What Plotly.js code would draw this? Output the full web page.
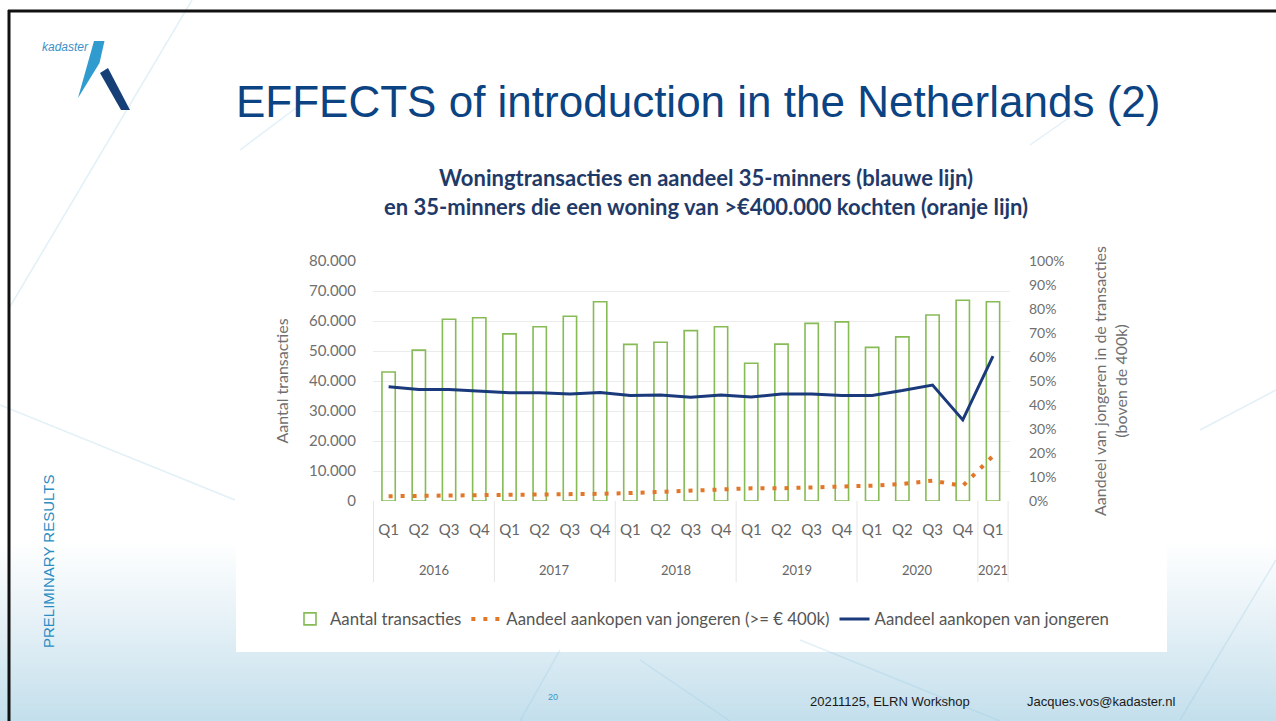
<!DOCTYPE html>
<html>
<head>
<meta charset="utf-8">
<script src="https://cdn.plot.ly/plotly-3.0.1.min.js"></script>
<style>
  html, body { margin: 0; padding: 0; }
  body {
    width: 1276px; height: 721px; overflow: hidden;
    background: linear-gradient(to bottom, #ffffff 0%, #ffffff 75%, #e4f0f6 87%, #c3dfec 100%);
  }
  #chart { width: 1276px; height: 721px; }
</style>
</head>
<body>
<div id="chart"></div>
<script>
// ---- data ----
const periodYear = ['2016','2016','2016','2016','2017','2017','2017','2017','2018','2018','2018','2018',
                    '2019','2019','2019','2019','2020','2020','2020','2020','2021'];
const periodQuarter = ['Q1','Q2','Q3','Q4','Q1','Q2','Q3','Q4','Q1','Q2','Q3','Q4',
                       'Q1','Q2','Q3','Q4','Q1','Q2','Q3','Q4','Q1'];
const aantalTransacties = [43000,50300,60600,61100,55700,58100,61600,66400,52200,52900,56800,58100,
                           45900,52300,59200,59700,51200,54700,62000,66900,66400];
const aandeelJongeren400k = [2.0,2.1,2.1,2.2,2.6,2.8,2.8,3.0,3.3,3.8,4.6,5.0,
                             5.3,5.3,5.7,5.7,6.4,7.1,8.5,6.3,18.8];
const aandeelJongeren = [47.6,46.5,46.5,45.8,45.1,45.1,44.6,45.2,44.0,44.2,43.2,44.2,
                         43.3,44.6,44.6,44.0,44.0,46.0,48.3,33.8,60.4];
const leftTicks = [0,10000,20000,30000,40000,50000,60000,70000,80000];

// ---- helpers ----
const W = 1276, H = 721;
const px = x => x / W;
const py = y => 1 - y / H;
const cats = periodYear.map((y, i) => y + ' ' + periodQuarter[i]);

const axisGrey = '#6f6f6f';
const chartFont = 'Lato, "Open Sans", sans-serif';

const traces = [
  {
    type: 'bar', name: 'Aantal transacties',
    x: cats, y: aantalTransacties,
    marker: { color: 'rgba(255,255,255,0)', line: { color: '#86bb55', width: 1.6 } },
    hoverinfo: 'skip'
  },
  {
    type: 'scatter', mode: 'lines', name: 'Aandeel aankopen van jongeren (>= € 400k)',
    x: cats, y: aandeelJongeren400k, yaxis: 'y2',
    line: { color: '#e2772a', width: 4, dash: '4px,8px' },
    hoverinfo: 'skip'
  },
  {
    type: 'scatter', mode: 'lines', name: 'Aandeel aankopen van jongeren',
    x: cats, y: aandeelJongeren, yaxis: 'y2',
    line: { color: '#1a3a7c', width: 3 },
    hoverinfo: 'skip'
  }
];

// year group labels & dividers
const years = [...new Set(periodYear)];
const annotations = [];
const shapes = [];

// slide decoration (below)
shapes.push({ type: 'rect', xref: 'paper', yref: 'paper', x0: px(236), x1: px(1167), y0: py(652), y1: py(140),
              fillcolor: '#ffffff', line: { width: 0 }, layer: 'below' });
const faint = 'rgba(150,200,225,0.28)';
[[192,0,8,310],[0,405,235,500],[1180,720,1276,560],[520,721,560,650],[640,660,730,721],
 [800,640,1000,721],[240,150,300,105],[1276,390,1200,430],[1030,145,1080,110]].forEach(l => {
  shapes.push({ type: 'line', xref: 'paper', yref: 'paper', x0: px(l[0]), y0: py(l[1]), x1: px(l[2]), y1: py(l[3]),
                line: { color: faint, width: 1.5 }, layer: 'below' });
});
// black border (top and left)
shapes.push({ type: 'line', xref: 'paper', yref: 'paper', x0: px(8), x1: 1, y0: py(11), y1: py(11), line: { color: '#111', width: 3 } });
shapes.push({ type: 'line', xref: 'paper', yref: 'paper', x0: px(9), x1: px(9), y0: py(10), y1: 0, line: { color: '#111', width: 3 } });
// logo shapes
shapes.push({ type: 'path', xref: 'paper', yref: 'paper',
  path: `M ${px(94)} ${py(41)} L ${px(104.5)} ${py(41)} L ${px(99.5)} ${py(63)} L ${px(78)} ${py(98)} Z`,
  fillcolor: '#2f9bcf', line: { width: 0 } });
shapes.push({ type: 'path', xref: 'paper', yref: 'paper',
  path: `M ${px(100)} ${py(73)} L ${px(108)} ${py(68)} L ${px(130)} ${py(110)} L ${px(121)} ${py(110)} Z`,
  fillcolor: '#163f78', line: { width: 0 } });

// year groups
let boundaries = [-0.5];
years.forEach(yr => {
  const idx = periodYear.map((v, i) => v === yr ? i : -1).filter(i => i >= 0);
  const first = idx[0], last = idx[idx.length - 1];
  annotations.push({ xref: 'x', yref: 'paper', x: (first + last) / 2, y: py(570), text: yr, showarrow: false,
                     font: { family: chartFont, size: 13, color: '#666' }, yanchor: 'middle' });
  boundaries.push(last + 0.5);
});
boundaries.forEach(b => {
  shapes.push({ type: 'line', xref: 'x', yref: 'paper', x0: b, x1: b, y0: py(501), y1: py(582),
                line: { color: '#e6e6e6', width: 1 } });
});

// texts
annotations.push(
  { xref: 'paper', yref: 'paper', x: px(698), y: py(102), text: 'EFFECTS of introduction in the Netherlands (2)',
    showarrow: false, font: { family: 'Liberation Sans, Arial, sans-serif', size: 44, color: '#0b4383' }, xanchor: 'center', yanchor: 'middle' },
  { xref: 'paper', yref: 'paper', x: px(706), y: py(192),
    text: '<b>Woningtransacties en aandeel 35-minners (blauwe lijn)</b><br><b>en 35-minners die een woning van >€400.000 kochten (oranje lijn)</b>',
    showarrow: false, font: { family: chartFont, size: 22, color: '#1f3a68' }, xanchor: 'center', yanchor: 'middle' },
  { xref: 'paper', yref: 'paper', x: px(40), y: py(47), text: '<i>kadaster</i>', showarrow: false,
    font: { family: 'Liberation Sans, Arial, sans-serif', size: 12, color: '#3d8fc7' }, xanchor: 'left', yanchor: 'middle' },
  { xref: 'paper', yref: 'paper', x: px(48), y: py(562), text: 'PRELIMINARY RESULTS', textangle: -90, showarrow: false,
    font: { family: 'Liberation Sans, Arial, sans-serif', size: 15, color: '#2a8dc2' }, xanchor: 'center', yanchor: 'middle' },
  { xref: 'paper', yref: 'paper', x: px(553), y: py(697), text: '20', showarrow: false,
    font: { family: 'Liberation Sans, Arial, sans-serif', size: 9, color: '#3a95c8' }, xanchor: 'center', yanchor: 'middle' },
  { xref: 'paper', yref: 'paper', x: px(890), y: py(701), text: '20211125, ELRN Workshop', showarrow: false,
    font: { family: 'Liberation Sans, Arial, sans-serif', size: 13, color: '#1a1a1a' }, xanchor: 'center', yanchor: 'middle' },
  { xref: 'paper', yref: 'paper', x: px(1025), y: py(701), text: 'Jacques.vos@kadaster.nl', showarrow: false,
    font: { family: 'Liberation Sans, Arial, sans-serif', size: 13, color: '#1a1a1a' }, xanchor: 'left', yanchor: 'middle' }
);

const layout = {
  width: W, height: H,
  margin: { l: 0, r: 0, t: 0, b: 0 },
  paper_bgcolor: 'rgba(0,0,0,0)',
  plot_bgcolor: 'rgba(0,0,0,0)',
  separators: ',.',
  showlegend: true,
  bargap: 0.56,
  font: { family: chartFont, color: axisGrey },
  xaxis: {
    domain: [px(373), px(1010)],
    type: 'category',
    tickvals: cats, ticktext: periodQuarter,
    tickfont: { family: chartFont, size: 15, color: '#666' },
    ticks: '', showgrid: false, zeroline: false, showline: false,
    ticklabelstandoff: 18,
    fixedrange: true
  },
  yaxis: {
    domain: [py(501), py(261)],
    range: [0, 80000],
    tickvals: leftTicks, tickformat: ',d',
    tickfont: { family: chartFont, size: 15, color: axisGrey },
    showgrid: true, gridcolor: '#ececec', gridwidth: 1, zeroline: false, showline: false,
    ticklabelstandoff: 16,
    title: { text: 'Aantal transacties', font: { family: chartFont, size: 16, color: axisGrey }, standoff: 16 },
    fixedrange: true
  },
  yaxis2: {
    overlaying: 'y', side: 'right',
    range: [0, 100], dtick: 10, ticksuffix: '%',
    tickfont: { family: chartFont, size: 14, color: axisGrey },
    showgrid: false, zeroline: false, showline: false,
    ticklabelstandoff: 18,
    title: { text: 'Aandeel van jongeren in de transacties<br>(boven de 400k)', font: { family: chartFont, size: 16, color: axisGrey }, standoff: 31 },
    fixedrange: true
  },
  legend: {
    orientation: 'h', x: px(290), y: py(619), xanchor: 'left', yanchor: 'middle',
    font: { family: chartFont, size: 16.8, color: '#555' },
    bgcolor: 'rgba(0,0,0,0)', traceorder: 'normal'
  },
  annotations: annotations,
  shapes: shapes
};

Plotly.newPlot('chart', traces, layout, { displayModeBar: false, staticPlot: true });
</script>
</body>
</html>
